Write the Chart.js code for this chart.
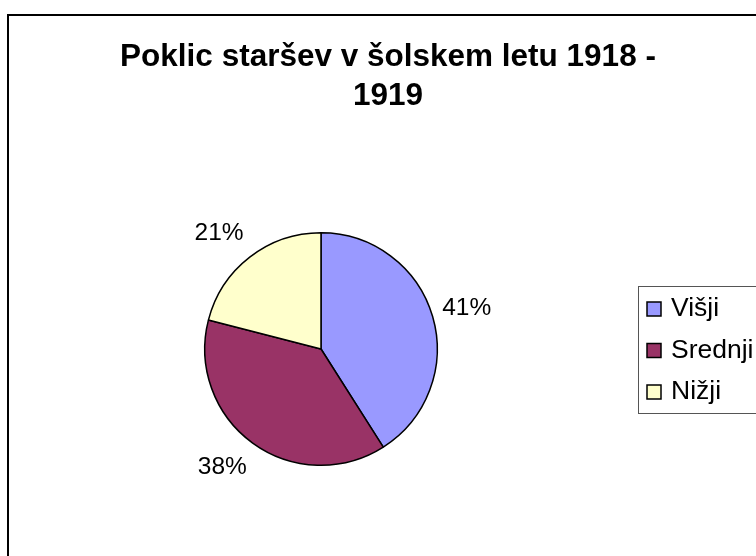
<!DOCTYPE html>
<html>
<head>
<meta charset="utf-8">
<script src="https://cdn.jsdelivr.net/npm/chart.js@4.4.0/dist/chart.umd.min.js"></script>
<style>
  html, body { margin: 0; padding: 0; background: #fff; }
  #wrap { width: 756px; height: 556px; position: relative; }
</style>
</head>
<body>
<div id="wrap"><canvas id="pieChart" width="756" height="556"></canvas></div>
<script>
var titleLines = ['Poklic staršev v šolskem letu 1918 -', '1919'];
var categories = ['Višji', 'Srednji', 'Nižji'];
var shares = [41, 38, 21];
var sliceColors = ['#9999FF', '#993366', '#FFFFCC'];

var FONT = '"Liberation Sans", Arial, sans-serif';

// frame, title, outside labels and the boxed legend
var decorations = {
    id: 'decorations',
    beforeDraw: function (chart) {
        var ctx = chart.ctx;
        ctx.save();
        ctx.fillStyle = '#fff';
        ctx.fillRect(0, 0, chart.width, chart.height);
        ctx.strokeStyle = '#000';
        ctx.lineWidth = 2;
        ctx.strokeRect(8, 15, 800, 600);
        ctx.restore();
    },
    afterDraw: function (chart) {
        var ctx = chart.ctx;
        ctx.save();

        // title
        ctx.fillStyle = '#000';
        ctx.font = 'bold 31.5px ' + FONT;
        ctx.textAlign = 'center';
        ctx.textBaseline = 'alphabetic';
        ctx.fillText(titleLines[0], 388, 66);
        ctx.fillText(titleLines[1], 388, 105);

        // percentage labels outside the slices
        var meta = chart.getDatasetMeta(0);
        var total = shares.reduce(function (a, b) { return a + b; }, 0);
        ctx.font = '24.5px ' + FONT;
        ctx.textBaseline = 'middle';
        meta.data.forEach(function (arc, i) {
            var mid = (arc.startAngle + arc.endAngle) / 2;
            var dx = Math.cos(mid), dy = Math.sin(mid);
            var d = arc.outerRadius + 10;
            var x = arc.x + dx * d;
            var y = arc.y + dy * d + dy * 20;
            ctx.textAlign = dx >= 0 ? 'left' : 'right';
            ctx.fillText(Math.round(shares[i] / total * 100) + '%', x, y);
        });

        // legend box
        ctx.strokeStyle = '#555';
        ctx.lineWidth = 1;
        ctx.strokeRect(638.5, 286.5, 140, 127);
        ctx.font = '26.5px ' + FONT;
        ctx.textAlign = 'left';
        categories.forEach(function (name, i) {
            var cy = 309 + i * 41.5;
            ctx.fillStyle = sliceColors[i];
            ctx.fillRect(647, cy - 7, 14, 14);
            ctx.strokeStyle = '#000';
            ctx.lineWidth = 1.5;
            ctx.strokeRect(647, cy - 7, 14, 14);
            ctx.fillStyle = '#000';
            ctx.fillText(name, 671, cy);
        });
        ctx.restore();
    }
};

new Chart(document.getElementById('pieChart').getContext('2d'), {
    type: 'pie',
    data: {
        labels: categories,
        datasets: [{
            data: shares,
            backgroundColor: sliceColors,
            borderColor: '#000',
            borderWidth: 1.5
        }]
    },
    options: {
        responsive: false,
        animation: false,
        events: [],
        layout: { padding: { left: 204, right: 318, top: 232, bottom: 90 } },
        plugins: {
            legend: { display: false },
            title: { display: false },
            tooltip: { enabled: false }
        }
    },
    plugins: [decorations]
});
</script>
</body>
</html>
